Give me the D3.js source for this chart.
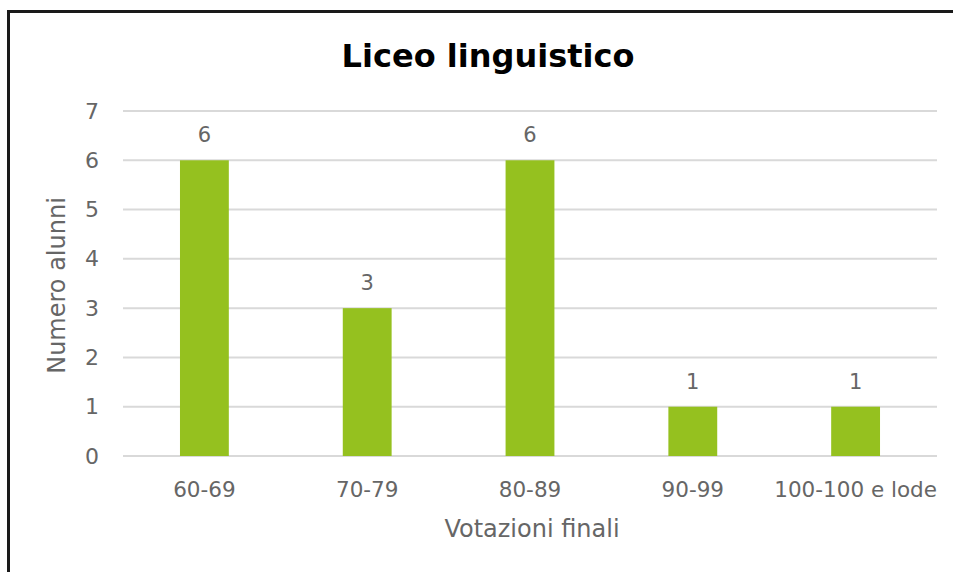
<!DOCTYPE html>
<html>
<head>
<meta charset="utf-8" />
<title>Liceo linguistico</title>
<script src="https://d3js.org/d3.v7.min.js"></script>
<style>
  html, body { margin: 0; padding: 0; background: #ffffff; overflow: hidden; }
  svg { display: block; }
</style>
</head>
<body>
<div id="chart"></div>
<script>

const categories = ['60-69', '70-79', '80-89', '90-99', '100-100 e lode']
const values = [6, 3, 6, 1, 1]
const yTicks = [0, 1, 2, 3, 4, 5, 6, 7]

const width = 953, height = 572
const margin = {top: 111, right: 16, bottom: 116, left: 123}
const font = "'DejaVu Sans', sans-serif"
const grey = '#666666'

const svg = d3.select('#chart')
  .append('svg')
  .attr('width', width)
  .attr('height', height)

// frame: only left and top edges show in the crop
svg.append('rect')
  .attr('x', 7).attr('y', 10)
  .attr('width', 3).attr('height', height - 10)
  .attr('fill', '#1a1a1a')
svg.append('rect')
  .attr('x', 7).attr('y', 10)
  .attr('width', width - 7).attr('height', 3)
  .attr('fill', '#1a1a1a')

const x = d3.scaleBand()
  .domain(categories)
  .range([margin.left, width - margin.right])
  .paddingInner(0.7)
  .paddingOuter(0.35)

const y = d3.scaleLinear()
  .domain([0, 7])
  .range([height - margin.bottom, margin.top])

// gridlines
svg.append('g')
  .selectAll('line')
  .data(yTicks)
  .enter()
  .append('line')
    .attr('x1', margin.left)
    .attr('x2', width - margin.right)
    .attr('y1', d => y(d))
    .attr('y2', d => y(d))
    .attr('stroke', '#d9d9d9')
    .attr('stroke-width', 2)

// y axis labels
const yAxis = svg.append('g')
  .attr('transform', 'translate(' + (margin.left - 24) + ',0)')
  .call(d3.axisLeft(y).tickValues(yTicks).tickFormat(d3.format('d')).tickSize(0).tickPadding(0))
yAxis.select('.domain').remove()
yAxis.selectAll('text')
  .attr('fill', grey)
  .attr('font-family', font)
  .attr('font-size', 22)

// x axis labels
const xAxis = svg.append('g')
  .attr('transform', 'translate(0,' + (height - margin.bottom) + ')')
  .call(d3.axisBottom(x).tickSize(0).tickPadding(0))
xAxis.select('.domain').remove()
xAxis.selectAll('text')
  .attr('dy', null)
  .attr('y', 41)
  .attr('fill', grey)
  .attr('font-family', font)
  .attr('font-size', 21.5)

// bars
svg.append('g')
  .selectAll('rect')
  .data(values)
  .enter()
  .append('rect')
    .attr('x', (d, i) => x(categories[i]))
    .attr('y', d => y(d))
    .attr('width', x.bandwidth())
    .attr('height', d => y(0) - y(d))
    .attr('fill', '#95c11f')

// data labels
svg.append('g')
  .selectAll('text')
  .data(values)
  .enter()
  .append('text')
    .attr('x', (d, i) => x(categories[i]) + x.bandwidth() / 2)
    .attr('y', d => y(d) - 18)
    .attr('text-anchor', 'middle')
    .attr('fill', grey)
    .attr('font-family', font)
    .attr('font-size', 21)
    .text(d => d)

// title
svg.append('text')
  .attr('x', 488)
  .attr('y', 67)
  .attr('text-anchor', 'middle')
  .attr('font-family', font)
  .attr('font-weight', 'bold')
  .attr('font-size', 32)
  .attr('fill', '#000000')
  .text('Liceo linguistico')

// axis titles
svg.append('text')
  .attr('x', 532)
  .attr('y', 537)
  .attr('text-anchor', 'middle')
  .attr('font-family', font)
  .attr('font-size', 24)
  .attr('fill', grey)
  .text('Votazioni finali')

svg.append('text')
  .attr('transform', 'translate(65,' + ((margin.top + height - margin.bottom) / 2 + 2) + ') rotate(-90)')
  .attr('text-anchor', 'middle')
  .attr('font-family', font)
  .attr('font-size', 24)
  .attr('fill', grey)
  .text('Numero alunni')

</script>
</body>
</html>
